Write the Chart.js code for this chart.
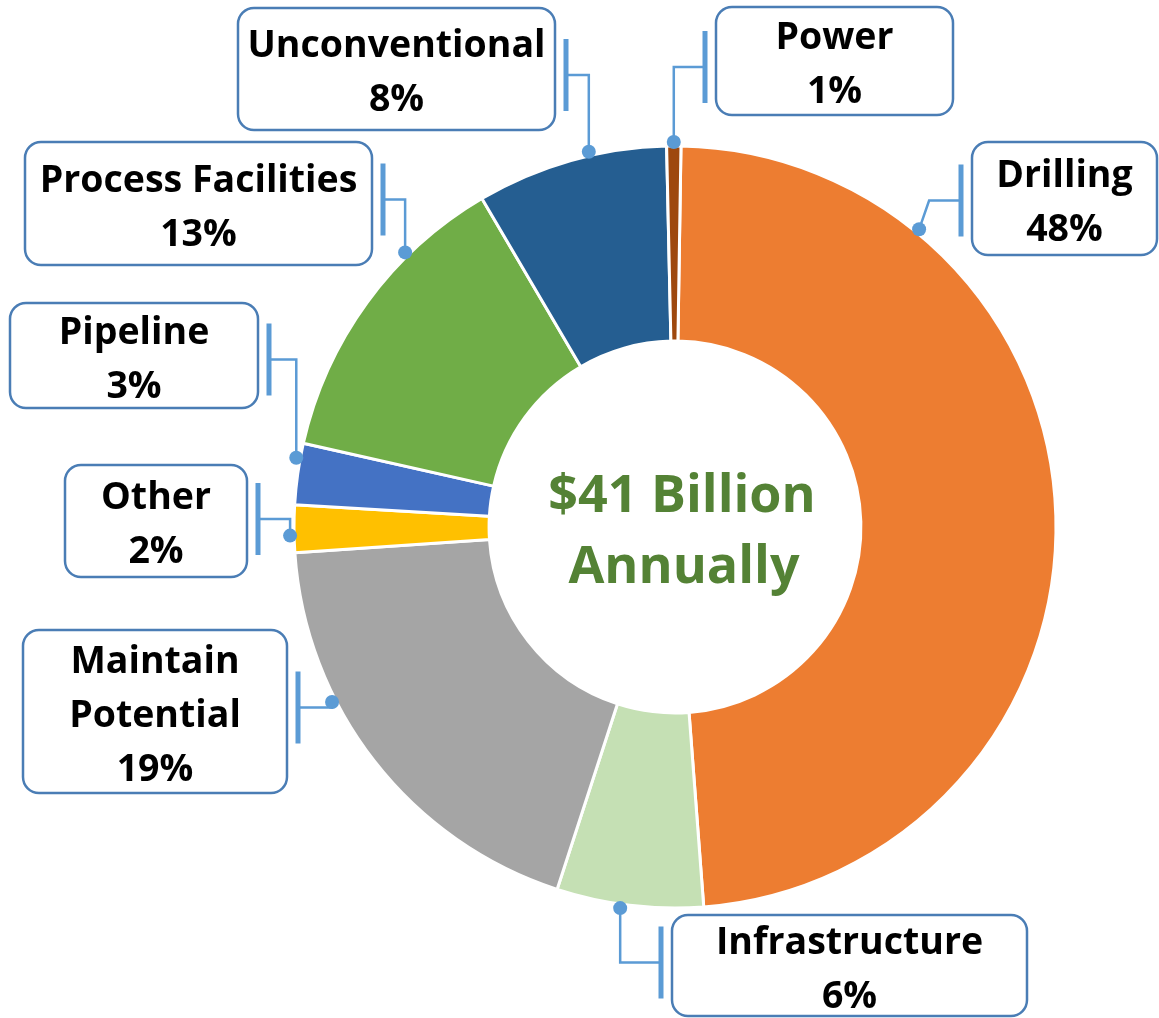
<!DOCTYPE html>
<html>
<head>
<meta charset="utf-8">
<title>$41 Billion Annually</title>
<script src="https://cdn.jsdelivr.net/npm/chart.js@4.4.1/dist/chart.umd.min.js"></script>
<style>
  html, body { margin: 0; padding: 0; background: #fff; }
  #wrap { width: 1159px; height: 1018px; }
</style>
</head>
<body>
<div id="wrap"><canvas id="spendChart" width="1159" height="1018"></canvas></div>
<script>
// annual spend split, clockwise from the top
var categories = ['Drilling', 'Infrastructure', 'Maintain Potential', 'Other', 'Pipeline', 'Process Facilities', 'Unconventional', 'Power'];
var shares = [48.5, 6.2, 18.9, 2.0, 2.6, 13.0, 8.1, 0.6];
var shareLabels = ['48%', '6%', '19%', '2%', '3%', '13%', '8%', '1%'];
var centerLines = ['$41 Billion', 'Annually'];

var sliceColors = ['#ED7D31', '#C5E0B4', '#A5A5A5', '#FFC000', '#4472C4', '#70AD47', '#255E91', '#9E480E'];

// callout boxes: [x, y, w, h], which side the bracket sits on,
// where along the slice the dot goes, and a small sideways shift of the elbow
var callouts = [
    { box: [972, 142, 185, 113], side: 'left',  along: 0.22, elbow: 10, dy: 2 },
    { box: [672, 915, 355, 101], side: 'left',  along: 0.56, elbow: 0,  dy: -3 },
    { box: [23, 630, 264, 163],  side: 'right', along: 0.66, elbow: 0,  dy: -4 },
    { box: [65, 465, 182, 112],  side: 'right', along: 0.36, elbow: 0,  dy: -2 },
    { box: [10, 303, 248, 105],  side: 'right', along: 0.75, elbow: 0,  dy: 4 },
    { box: [25, 142, 347, 123],  side: 'right', along: 0.70, elbow: 0,  dy: -4 },
    { box: [238, 8, 317, 122],   side: 'right', along: 0.60, elbow: 0,  dy: 6 },
    { box: [716, 7, 237, 108],   side: 'left',  along: 0.50, elbow: 0,  dy: 6 }
];
var wrapped = { 'Maintain Potential': ['Maintain', 'Potential'] };

var LEADER = '#5B9BD5';
var BOX_LINE = '#4A7DB5';
var FONT = '"Open Sans", "Noto Sans", sans-serif';

function roundRect(ctx, x, y, w, h, r) {
    ctx.beginPath();
    ctx.moveTo(x + r, y);
    ctx.arcTo(x + w, y, x + w, y + h, r);
    ctx.arcTo(x + w, y + h, x, y + h, r);
    ctx.arcTo(x, y + h, x, y, r);
    ctx.arcTo(x, y, x + w, y, r);
    ctx.closePath();
}

var calloutPlugin = {
    id: 'callouts',
    afterDatasetsDraw: function(chart) {
        var ctx = chart.ctx;
        var arcs = chart.getDatasetMeta(0).data;
        ctx.save();

        // center text
        var c = arcs[0];
        ctx.fillStyle = '#548235';
        ctx.font = 'bold 52px ' + FONT;
        ctx.textAlign = 'center';
        ctx.textBaseline = 'alphabetic';
        ctx.fillText(centerLines[0], c.x + 7, c.y - 15);
        ctx.fillText(centerLines[1], c.x + 9, c.y + 56);

        arcs.forEach(function(arc, i) {
            var co = callouts[i];
            var bx = co.box[0], by = co.box[1], bw = co.box[2], bh = co.box[3];
            var ang = arc.startAngle + co.along * (arc.endAngle - arc.startAngle);
            var r = arc.outerRadius + 4;
            var ax = arc.x + Math.cos(ang) * r;
            var ay = arc.y + Math.sin(ang) * r;
            var midY = by + bh / 2 + co.dy;
            var brX = co.side === 'left' ? bx - 11 : bx + bw + 11;

            // leader
            ctx.strokeStyle = LEADER;
            ctx.lineWidth = 2.5;
            ctx.beginPath();
            ctx.moveTo(ax, ay);
            ctx.lineTo(ax + co.elbow, midY);
            ctx.lineTo(brX, midY);
            ctx.stroke();

            // bracket
            ctx.lineWidth = 5;
            ctx.beginPath();
            ctx.moveTo(brX, midY - 36);
            ctx.lineTo(brX, midY + 36);
            ctx.stroke();

            // dot
            ctx.fillStyle = LEADER;
            ctx.beginPath();
            ctx.arc(ax, ay, 7, 0, Math.PI * 2);
            ctx.fill();

            // box
            roundRect(ctx, bx, by, bw, bh, 16);
            ctx.fillStyle = '#fff';
            ctx.fill();
            ctx.strokeStyle = BOX_LINE;
            ctx.lineWidth = 2.5;
            ctx.stroke();

            // text
            var lines = (wrapped[categories[i]] || [categories[i]]).concat([shareLabels[i]]);
            var step = 54;
            var first = by + bh / 2 + 2 - ((lines.length - 1) * step - 26) / 2;
            ctx.fillStyle = '#000';
            ctx.font = 'bold 37.5px ' + FONT;
            lines.forEach(function(t, k) {
                ctx.fillText(t, bx + bw / 2, first + k * step);
            });
        });
        ctx.restore();
    }
};

new Chart(document.getElementById('spendChart'), {
    type: 'doughnut',
    data: {
        labels: categories,
        datasets: [{
            data: shares,
            backgroundColor: sliceColors,
            borderColor: '#ffffff',
            borderWidth: 3,
            hoverOffset: 0,
            radius: 381,
            cutout: '48.8%'
        }]
    },
    options: {
        responsive: false,
        animation: false,
        rotation: 0.9,
        layout: { padding: { left: 191, top: 36, right: 0, bottom: 0 } },
        plugins: {
            legend: { display: false },
            tooltip: { enabled: false }
        }
    },
    plugins: [calloutPlugin]
});
</script>
</body>
</html>
